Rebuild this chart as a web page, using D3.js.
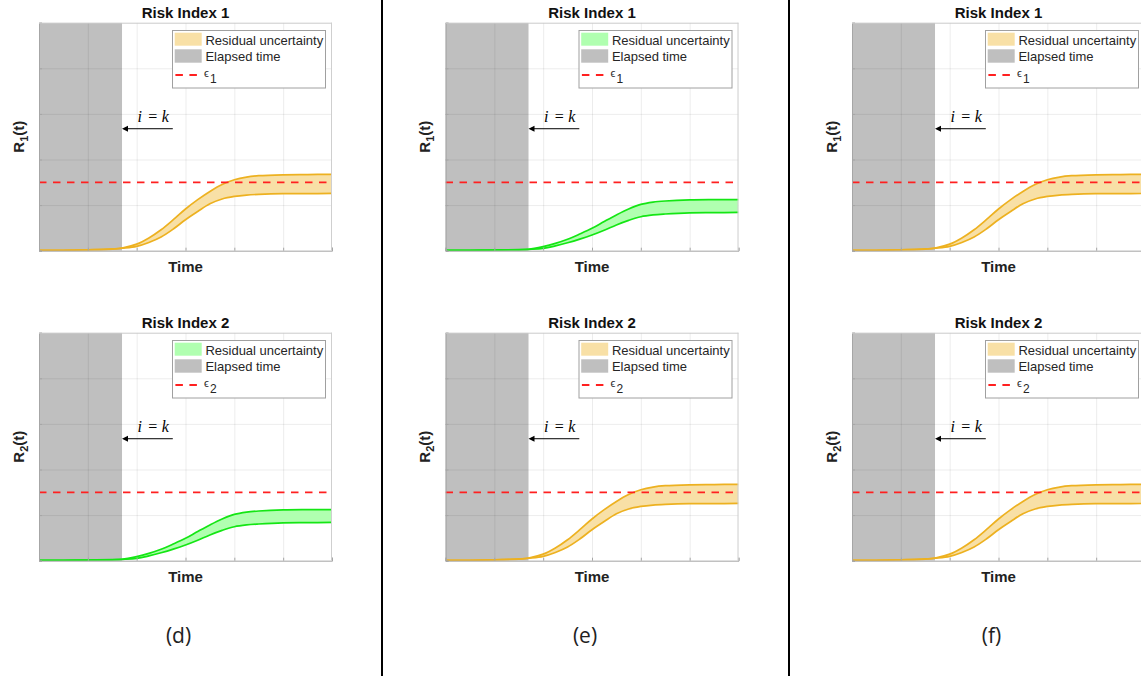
<!DOCTYPE html>
<html>
<head>
<meta charset="utf-8">
<script src="https://cdn.jsdelivr.net/npm/d3@7"></script>
<style>
  html, body { margin: 0; padding: 0; background: #fff; }
  svg { display: block; font-family: "Liberation Sans", Arial, sans-serif; }
</style>
</head>
<body>
<svg id="fig" width="1141" height="676"></svg>
<script>
// ---- data ---------------------------------------------------------------
// sample times along the prediction horizon (time axis spans 0..6)
const timeSamples = [0, 0.5, 1, 1.5, 1.7, 2, 2.25, 2.5, 2.75, 3, 3.25, 3.5, 3.75, 4, 4.25, 4.5, 5, 5.5, 6];

// risk band whose upper bound ends above the threshold
const highUpper = [0.001, 0.002, 0.004, 0.008, 0.012, 0.029, 0.056, 0.092, 0.136, 0.183, 0.224, 0.260, 0.290, 0.311, 0.323, 0.329, 0.333, 0.334, 0.335];
const highLower = [0.001, 0.002, 0.004, 0.007, 0.011, 0.019, 0.036, 0.060, 0.095, 0.136, 0.172, 0.206, 0.227, 0.238, 0.244, 0.247, 0.250, 0.250, 0.251];

// risk band that stays below the threshold
const lowUpper = [0.001, 0.002, 0.003, 0.005, 0.006, 0.018, 0.032, 0.050, 0.073, 0.098, 0.128, 0.157, 0.183, 0.203, 0.213, 0.218, 0.223, 0.224, 0.224];
const lowLower = [0.001, 0.002, 0.003, 0.004, 0.006, 0.010, 0.021, 0.035, 0.051, 0.069, 0.090, 0.113, 0.133, 0.149, 0.157, 0.161, 0.166, 0.167, 0.168];

const thresholds = [0.3, 0.3];          // epsilon_1, epsilon_2
const elapsedTime = 1.7;                // current step i = k
const arrowLevel = 0.535;               // height of the i = k pointer
const arrowFrom = 2.74;                 // tail of the pointer (time units)
const arrowLabelAt = 2.33;              // centre of the "i = k" label

const panelLabels = ["(d)", "(e)", "(f)"];
const riskTitles = ["Risk Index 1", "Risk Index 2"];
const subscripts = ["1", "2"];
// which band each risk index shows in each panel
const panelBands = [["high", "low"], ["low", "high"], ["high", "high"]];

const xTicks = [0, 1, 2, 3, 4, 5, 6];
const yTicks = [0, 0.2, 0.4, 0.6, 0.8, 1];

// ---- styling / layout ---------------------------------------------------
const bandStyle = {
  high: { fill: "rgb(248,224,166)", line: "#EDB120", upper: highUpper, lower: highLower },
  low:  { fill: "rgb(176,255,176)", line: "#14e614", upper: lowUpper,  lower: lowLower }
};
const colLeft = [39, 445.5, 852];
const rowTop = [22.7, 332.7];
const W = 293, H = 228;

const svg = d3.select("#fig");
svg.append("rect").attr("width", 1141).attr("height", 676).attr("fill", "#fff");

const x = d3.scaleLinear().domain([0, 6]).range([0, W]);
const y = d3.scaleLinear().domain([0, 1]).range([H, 0]);
const smooth = d3.curveCatmullRom.alpha(0.5);

const bandData = key => timeSamples.map((t, i) => ({
  t, hi: bandStyle[key].upper[i], lo: bandStyle[key].lower[i]
}));

panelLabels.forEach((label, c) => {
  riskTitles.forEach((title, r) => {
    const key = panelBands[c][r];
    const st = bandStyle[key];
    const data = bandData(key);
    const g = svg.append("g").attr("transform", `translate(${colLeft[c]},${rowTop[r]})`);

    const clipId = `clip-${c}-${r}`;
    g.append("clipPath").attr("id", clipId)
      .append("rect").attr("width", W).attr("height", H);
    const plot = g.append("g").attr("clip-path", `url(#${clipId})`);

    // elapsed-time shading
    plot.append("rect")
      .attr("x", x(0)).attr("y", 0)
      .attr("width", x(elapsedTime) - x(0)).attr("height", H)
      .attr("fill", "#bfbfbf");

    // grid
    plot.append("g").attr("transform", `translate(0,${H})`)
      .call(d3.axisBottom(x).tickValues(xTicks).tickSize(-H).tickFormat(""))
      .call(a => a.select(".domain").remove())
      .call(a => a.selectAll("line").attr("stroke", "#000").attr("stroke-opacity", 0.075));
    plot.append("g")
      .call(d3.axisLeft(y).tickValues(yTicks).tickSize(-W).tickFormat(""))
      .call(a => a.select(".domain").remove())
      .call(a => a.selectAll("line").attr("stroke", "#000").attr("stroke-opacity", 0.075));

    // uncertainty band
    plot.append("path").datum(data)
      .attr("fill", st.fill)
      .attr("d", d3.area().x(d => x(d.t)).y0(d => y(d.lo)).y1(d => y(d.hi)).curve(smooth));
    ["hi", "lo"].forEach(k => {
      plot.append("path").datum(data)
        .attr("fill", "none").attr("stroke", st.line).attr("stroke-width", 1.7)
        .attr("d", d3.line().x(d => x(d.t)).y(d => y(d[k])).curve(smooth));
    });

    // threshold
    plot.append("line")
      .attr("x1", x(0)).attr("x2", x(6))
      .attr("y1", y(thresholds[r])).attr("y2", y(thresholds[r]))
      .attr("stroke", "#ff2020").attr("stroke-width", 1.8)
      .attr("stroke-dasharray", "7.5,6.5");

    // axes box and inward ticks
    g.append("g").attr("transform", `translate(0,${H})`)
      .call(d3.axisBottom(x).tickValues(xTicks).tickSize(-3).tickFormat(""))
      .call(a => a.selectAll("line,path").attr("stroke", "#a6a6a6"));
    g.append("g")
      .call(d3.axisLeft(y).tickValues(yTicks).tickSize(-3).tickFormat(""))
      .call(a => a.selectAll("line,path").attr("stroke", "#a6a6a6"));
    g.append("line").attr("x1", 0).attr("x2", W).attr("y1", 0.5).attr("y2", 0.5)
      .attr("stroke", "#cfcfcf");
    g.append("line").attr("x1", W - 0.5).attr("x2", W - 0.5).attr("y1", 0).attr("y2", H)
      .attr("stroke", "#cfcfcf");

    // i = k pointer
    const ay = y(arrowLevel);
    g.append("line")
      .attr("x1", x(arrowFrom)).attr("x2", x(elapsedTime) + 4)
      .attr("y1", ay).attr("y2", ay)
      .attr("stroke", "#000").attr("stroke-width", 1);
    g.append("path")
      .attr("d", `M${x(elapsedTime)},${ay} l6,-3 l0,6 z`)
      .attr("fill", "#000");
    const lc = x(arrowLabelAt), ly = ay - 7;
    const ik = g.append("g").attr("font-family", "'Liberation Serif','DejaVu Serif',serif")
      .attr("font-size", 16).attr("fill", "#000").attr("text-anchor", "middle");
    ik.append("text").attr("x", lc - 13).attr("y", ly).attr("font-style", "italic").text("i");
    ik.append("text").attr("x", lc).attr("y", ly).text("=");
    ik.append("text").attr("x", lc + 12.5).attr("y", ly).attr("font-style", "italic").text("k");

    // title and axis labels
    g.append("text").attr("x", W / 2).attr("y", -4.7)
      .attr("text-anchor", "middle").attr("font-size", 15).attr("font-weight", "bold")
      .attr("fill", "#111").text(title);
    g.append("text").attr("x", W / 2).attr("y", H + 21.5)
      .attr("text-anchor", "middle").attr("font-size", 15).attr("font-weight", "bold")
      .attr("fill", "#222").text("Time");
    const yl = g.append("text")
      .attr("transform", `translate(-15.5,${H / 2}) rotate(-90)`)
      .attr("text-anchor", "middle").attr("font-size", 15).attr("font-weight", "bold")
      .attr("fill", "#222");
    yl.append("tspan").text("R");
    yl.append("tspan").attr("font-size", 11).attr("dy", 4).text(subscripts[r]);
    yl.append("tspan").attr("dy", -4).text("(t)");

    // legend
    const lg = g.append("g").attr("transform", `translate(${W - 160},7.3)`);
    lg.append("rect").attr("x", 0.5).attr("y", 0.5).attr("width", 153).attr("height", 57.5)
      .attr("fill", "#fff").attr("stroke", "#a0a0a0").attr("stroke-width", 1);
    lg.append("rect").attr("x", 2.7).attr("y", 2.7).attr("width", 27).attr("height", 13)
      .attr("fill", st.fill);
    lg.append("rect").attr("x", 2.7).attr("y", 19.3).attr("width", 27).attr("height", 13.4)
      .attr("fill", "#bfbfbf");
    lg.append("line").attr("x1", 3.4).attr("x2", 27).attr("y1", 45).attr("y2", 45)
      .attr("stroke", "#ff2020").attr("stroke-width", 1.8).attr("stroke-dasharray", "7.5,6.5");
    const lt = lg.append("g").attr("font-size", 13).attr("fill", "#262626");
    lt.append("text").attr("x", 33.4).attr("y", 14.5).text("Residual uncertainty");
    lt.append("text").attr("x", 33.4).attr("y", 31).text("Elapsed time");
    const eps = lt.append("text").attr("x", 32).attr("y", 46.5);
    eps.append("tspan").attr("font-size", 11).text("\u03F5");
    eps.append("tspan").attr("font-size", 12).attr("dy", 6).attr("dx", 1).text(subscripts[r]);
  });

  // panel caption
  svg.append("text")
    .attr("x", colLeft[c] + W / 2 - 7).attr("y", 643)
    .attr("text-anchor", "middle")
    .attr("font-family", "'Open Sans', 'Noto Sans', sans-serif")
    .attr("font-size", 21).attr("fill", "#222")
    .text(label);
});

// column separators
[382, 789].forEach(sx => {
  svg.append("line").attr("x1", sx).attr("x2", sx).attr("y1", 0).attr("y2", 676)
    .attr("stroke", "#000").attr("stroke-width", 2);
});
</script>
</body>
</html>
